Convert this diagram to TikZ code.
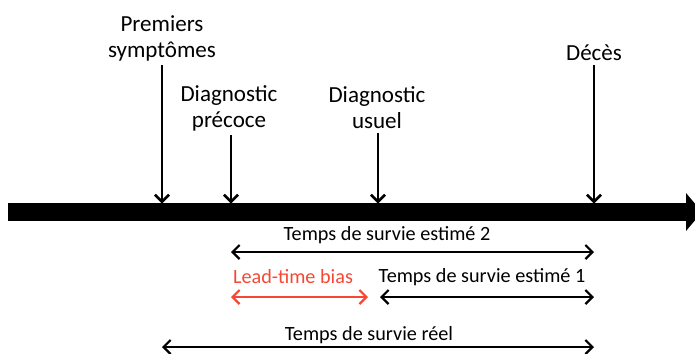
\documentclass[tikz,border=0pt]{standalone}
\usepackage{fontspec}
\setmainfont{Carlito}
\usetikzlibrary{arrows.meta}
\definecolor{leadred}{RGB}{245,72,52}

\begin{document}
\begin{tikzpicture}[>={Straight Barb[length=4pt,width=8pt]},
        event/.style={align=center, anchor=south, inner sep=2pt,
            font=\fontsize{13.1}{14.8}\selectfont},
        spantext/.style={inner sep=0pt, font=\fontsize{11.5}{14.8}\selectfont},
        down/.style={->, line width=1.5pt},
        span/.style={<->, line width=1.3pt}]

    \useasboundingbox (0,0) rectangle (13.9,7.06);

    % time axis
    \coordinate (start) at (0.16,2.82);
    \coordinate (end) at (14.04,2.82);
    \draw[line width=0.36cm, -{Triangle[length=0.32cm,width=0.76cm,line width=0pt]}] (start) -- (end);

    \coordinate (sym) at (3.24,2.99);
    \coordinate (prec) at (4.62,2.99);
    \coordinate (usu) at (7.56,2.99);
    \coordinate (dec) at (11.88,2.99);

    \node[event] (Lsym) at (3.24,5.76) {Premiers\\symptômes};
    \node[event] (Lprec) at (4.58,4.36) {Diagnostic\\précoce};
    \node[event] (Lusu) at (7.54,4.40) {Diagnostic\\usuel};
    \node[event] (Ldec) at (11.88,5.76) {Décès};

    \draw[down] (Lsym.south -| sym) -- (sym);
    \draw[down] (Lprec.south -| prec) -- (prec);
    \draw[down] (Lusu.south -| usu) -- (usu);
    \draw[down] (Ldec) -- (dec);

    % survival times
    \coordinate (e2a) at (4.62,2.02);
    \coordinate (e2b) at (11.88,2.02);
    \coordinate (lta) at (4.62,1.12);
    \coordinate (ltb) at (7.36,1.12);
    \coordinate (e1a) at (7.60,1.12);
    \coordinate (e1b) at (11.88,1.12);
    \coordinate (rea) at (3.24,0.12);
    \coordinate (reb) at (11.88,0.12);

    \node[spantext] (Te2) at (7.74,2.36) {Temps de survie estimé 2};
    \node[spantext, text=leadred] (Tlt) at (5.86,1.52) {Lead-time bias};
    \node[spantext] (Te1) at (9.64,1.52) {Temps de survie estimé 1};
    \node[spantext] (Tre) at (7.38,0.36) {Temps de survie réel};

    \draw[span] (e2a) -- (e2b);
    \draw[span, leadred] (lta) -- (ltb);
    \draw[span] (e1a) -- (e1b);
    \draw[span] (rea) -- (reb);

\end{tikzpicture}
\end{document}
